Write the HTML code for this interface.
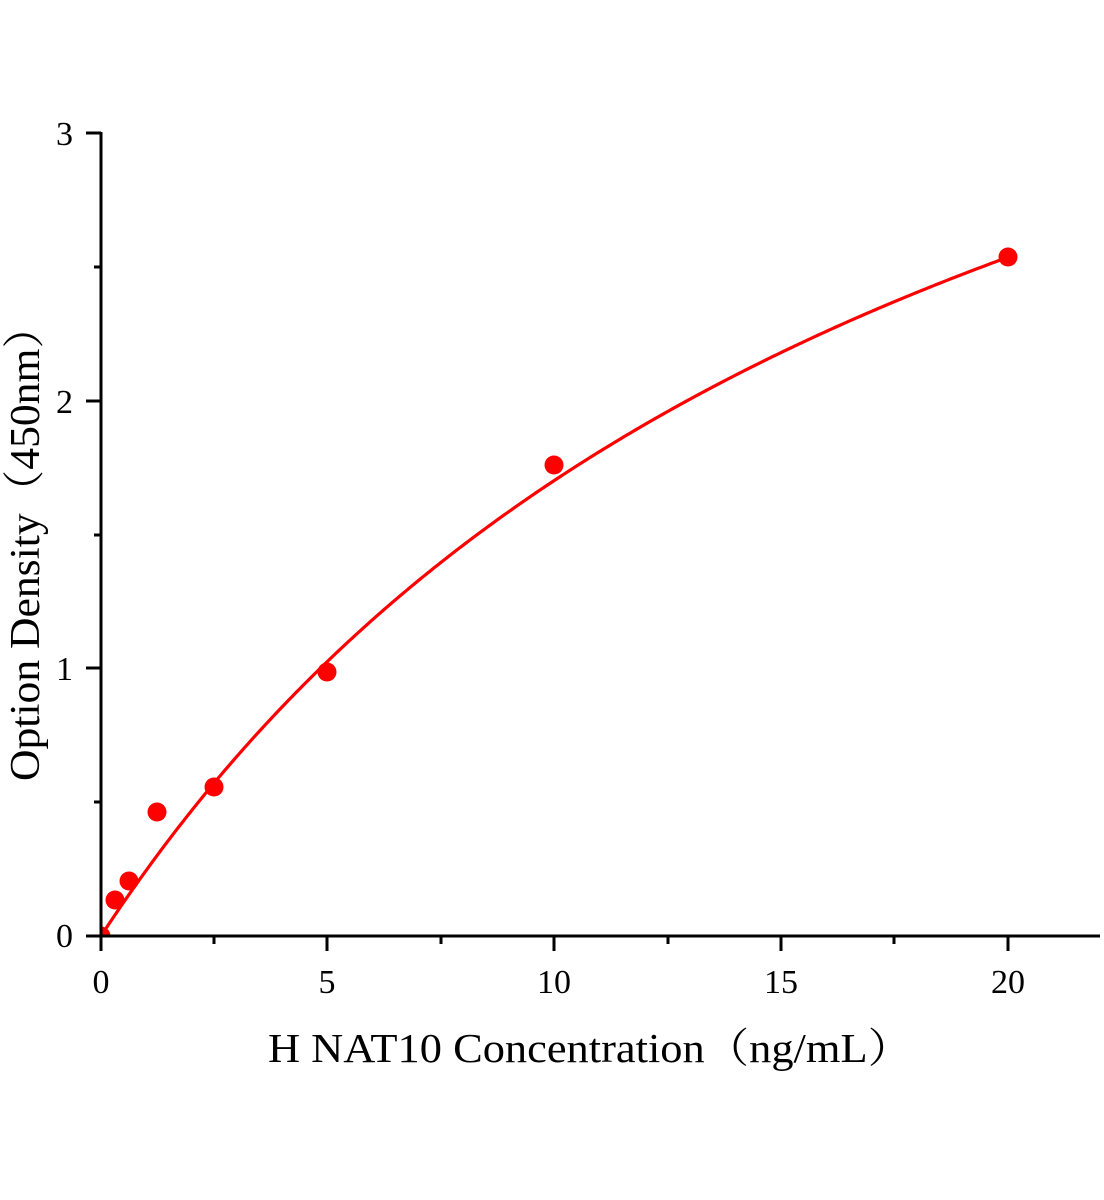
<!DOCTYPE html>
<html><head><meta charset="utf-8"><style>
html,body{margin:0;padding:0;background:#fff;}
svg{display:block;}
text{font-family:"Liberation Serif","Noto Serif CJK SC",serif;fill:#000;}
</style></head><body>
<svg id="s" width="1104" height="1200" viewBox="0 0 1104 1200" xmlns="http://www.w3.org/2000/svg">
<defs><clipPath id="c"><rect x="101" y="100" width="1000" height="836"/></clipPath></defs>
<path id="curve" d="" fill="none" stroke="#ff0000" stroke-width="3.2" clip-path="url(#c)"/>
<g fill="#ff0000" clip-path="url(#c)">
<circle cx="101" cy="936" r="9.5"/>
<circle cx="115" cy="900" r="9.5"/>
<circle cx="129" cy="881" r="9.5"/>
<circle cx="157" cy="812" r="9.5"/>
<circle cx="214" cy="787" r="9.5"/>
<circle cx="327" cy="672" r="9.5"/>
<circle cx="554" cy="465" r="9.5"/>
<circle cx="1008" cy="257" r="9.5"/>
</g>
<g stroke="#000" stroke-width="3" fill="none">
<line x1="101" y1="132" x2="101" y2="937"/>
<line x1="100" y1="936" x2="1100" y2="936"/>
<line x1="86" y1="133" x2="101" y2="133"/>
<line x1="94" y1="267" x2="101" y2="267"/>
<line x1="86" y1="401" x2="101" y2="401"/>
<line x1="94" y1="535" x2="101" y2="535"/>
<line x1="86" y1="668" x2="101" y2="668"/>
<line x1="94" y1="802" x2="101" y2="802"/>
<line x1="86" y1="936" x2="101" y2="936"/>
<line x1="101" y1="936" x2="101" y2="951"/>
<line x1="214" y1="936" x2="214" y2="944"/>
<line x1="327" y1="936" x2="327" y2="951"/>
<line x1="441" y1="936" x2="441" y2="944"/>
<line x1="554" y1="936" x2="554" y2="951"/>
<line x1="668" y1="936" x2="668" y2="944"/>
<line x1="781" y1="936" x2="781" y2="951"/>
<line x1="894" y1="936" x2="894" y2="944"/>
<line x1="1008" y1="936" x2="1008" y2="951"/>
</g>
<g font-size="34" text-anchor="end">
<text x="73" y="145">3</text>
<text x="73" y="413">2</text>
<text x="73" y="680">1</text>
<text x="73" y="947">0</text>
</g>
<g font-size="34" text-anchor="middle">
<text x="101" y="993">0</text>
<text x="327" y="993">5</text>
<text x="554" y="993">10</text>
<text x="781" y="993">15</text>
<text x="1008" y="993">20</text>
</g>
<text x="590" y="1062" font-size="41" text-anchor="middle" textLength="644" lengthAdjust="spacingAndGlyphs">H NAT10 Concentration（ng/mL）</text>
<text transform="translate(39,543) rotate(-90)" font-size="42" text-anchor="middle" textLength="476" lengthAdjust="spacingAndGlyphs">Option Density（450nm）</text>
</svg>
<script>
var d="";
for(var i=0;i<=400;i++){
var x=i*20/400;
var y=4.97*x/(19.2+x);
var X=101+45.35*x, Y=936-267.7*y;
d+=(i?" L":"M")+X.toFixed(2)+","+Y.toFixed(2);
}
document.getElementById("curve").setAttribute("d",d);
</script>
</body></html>
